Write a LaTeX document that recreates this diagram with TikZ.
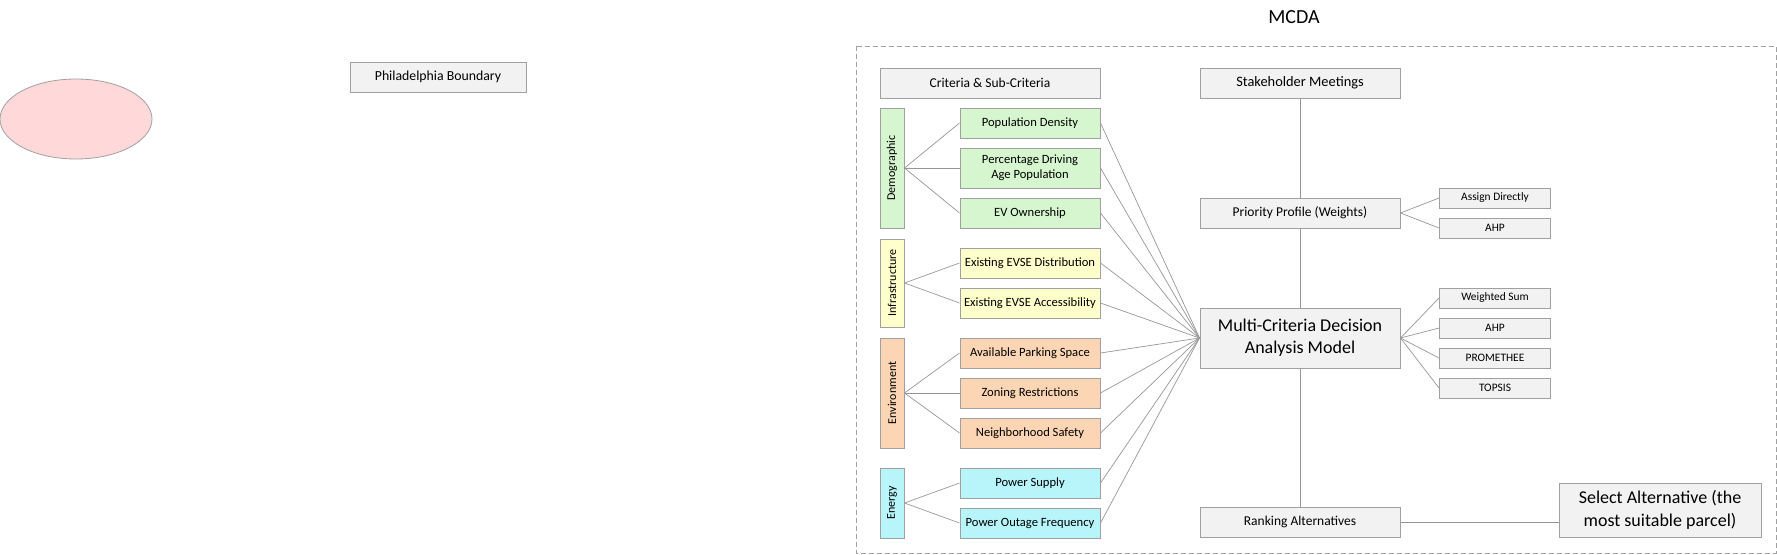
\documentclass[tikz,border=0pt]{standalone}
\usepackage{fontspec}
\setmainfont{Carlito}
\usepackage{graphicx}
\usetikzlibrary{shapes.geometric}

\definecolor{boxgray}{RGB}{242,242,242}
\definecolor{edgegray}{RGB}{160,160,160}
\definecolor{linegray}{RGB}{150,150,150}
\definecolor{demogreen}{RGB}{214,246,207}
\definecolor{infrayellow}{RGB}{255,255,204}
\definecolor{envorange}{RGB}{252,214,180}
\definecolor{energycyan}{RGB}{183,245,250}
\definecolor{blobpink}{RGB}{255,217,217}

\tikzset{
  box/.style={rectangle, draw=edgegray, line width=1pt, fill=boxgray, inner sep=2pt, align=center},
  sub/.style={box, minimum width=140pt, minimum height=30pt, font=\fontsize{12.6}{15}\selectfont},
  cat/.style={box, minimum width=24pt, font=\fontsize{12}{14}\selectfont},
  method/.style={box, minimum width=111pt, minimum height=20pt, font=\fontsize{11.4}{13}\selectfont},
  link/.style={draw=linegray, line width=0.7pt}
}

\begin{document}
\begin{tikzpicture}[x=1pt, y=-1pt]
    \useasboundingbox (0,0) rectangle (1777,554);
    \def\subx{1030}
    \def\catx{892}
    \def\midx{1300}
    \def\methx{1495}

    % left part
    \node(blob) [ellipse, draw=edgegray, line width=0.8pt, fill=blobpink, minimum width=152pt, minimum height=80pt] at (76,119) {};
    \node(philly) [box, minimum width=176pt, minimum height=30pt, font=\fontsize{13.8}{16}\selectfont] at (438,77) {Philadelphia Boundary};

    % MCDA frame
    \node(title) [font=\fontsize{20}{24}\selectfont] at (1294,17) {MCDA};
    \draw[draw=edgegray, line width=1pt, dash pattern=on 5pt off 3pt] (856,46) rectangle (1776,553);

    % criteria
    \node(crit) [box, minimum width=220pt, minimum height=30pt, font=\fontsize{13.5}{16}\selectfont] at (990,83) {Criteria \& Sub-Criteria};

    \node(demo) [cat, fill=demogreen, minimum height=120pt] at (\catx,168) {\rotatebox{90}{Demographic}};
    \node(infra) [cat, fill=infrayellow, minimum height=88pt] at (\catx,283) {\rotatebox{90}{Infrastructure}};
    \node(env) [cat, fill=envorange, minimum height=110pt] at (\catx,393) {\rotatebox{90}{Environment}};
    \node(energy) [cat, fill=energycyan, minimum height=70pt] at (\catx,503) {\rotatebox{90}{Energy}};

    \node(s1) [sub, fill=demogreen] at (\subx,123) {Population Density};
    \node(s2) [sub, fill=demogreen, minimum height=40pt] at (\subx,168) {Percentage Driving\\Age Population};
    \node(s3) [sub, fill=demogreen] at (\subx,213) {EV Ownership};
    \node(s4) [sub, fill=infrayellow] at (\subx,263) {Existing EVSE Distribution};
    \node(s5) [sub, fill=infrayellow] at (\subx,303) {Existing EVSE Accessibility};
    \node(s6) [sub, fill=envorange] at (\subx,353) {Available Parking Space};
    \node(s7) [sub, fill=envorange] at (\subx,393) {Zoning Restrictions};
    \node(s8) [sub, fill=envorange] at (\subx,433) {Neighborhood Safety};
    \node(s9) [sub, fill=energycyan] at (\subx,483) {Power Supply};
    \node(s10) [sub, fill=energycyan] at (\subx,523) {Power Outage Frequency};

    % process column
    \node(stake) [box, minimum width=200pt, minimum height=30pt, font=\fontsize{14.4}{17}\selectfont] at (\midx,83) {Stakeholder Meetings};
    \node(prio) [box, minimum width=200pt, minimum height=30pt, font=\fontsize{13.5}{16}\selectfont] at (\midx,213) {Priority Profile (Weights)};
    \node(model) [box, minimum width=200pt, minimum height=60pt, font=\fontsize{18}{22}\selectfont] at (\midx,338) {Multi-Criteria Decision\\Analysis Model};
    \node(rank) [box, minimum width=200pt, minimum height=30pt, font=\fontsize{13.5}{16}\selectfont] at (\midx,522) {Ranking Alternatives};
    \node(select) [box, minimum width=202pt, minimum height=54pt, font=\fontsize{18}{23}\selectfont] at (1660,510) {Select Alternative (the\\most suitable parcel)};

    \node(w1) [method] at (\methx,198) {Assign Directly};
    \node(w2) [method] at (\methx,228) {AHP};
    \node(m1) [method] at (\methx,298) {Weighted Sum};
    \node(m2) [method] at (\methx,328) {AHP};
    \node(m3) [method] at (\methx,358) {PROMETHEE};
    \node(m4) [method] at (\methx,388) {TOPSIS};

    % connectors
    \foreach \s in {s1,s2,s3} \draw[link] (demo.east) -- (\s.west);
    \foreach \s in {s4,s5} \draw[link] (infra.east) -- (\s.west);
    \foreach \s in {s6,s7,s8} \draw[link] (env.east) -- (\s.west);
    \foreach \s in {s9,s10} \draw[link] (energy.east) -- (\s.west);
    \foreach \s in {s1,s2,s3,s4,s5,s6,s7,s8,s9,s10} \draw[link] (\s.east) -- (model.west);

    \draw[link] (stake) -- (prio);
    \draw[link] (prio) -- (model);
    \draw[link] (model) -- (rank);
    \draw[link] (rank.east) -- (rank.east -| select.west);
    \foreach \m in {w1,w2} \draw[link] (prio.east) -- (\m.west);
    \foreach \m in {m1,m2,m3,m4} \draw[link] (model.east) -- (\m.west);

\end{tikzpicture}
\end{document}
